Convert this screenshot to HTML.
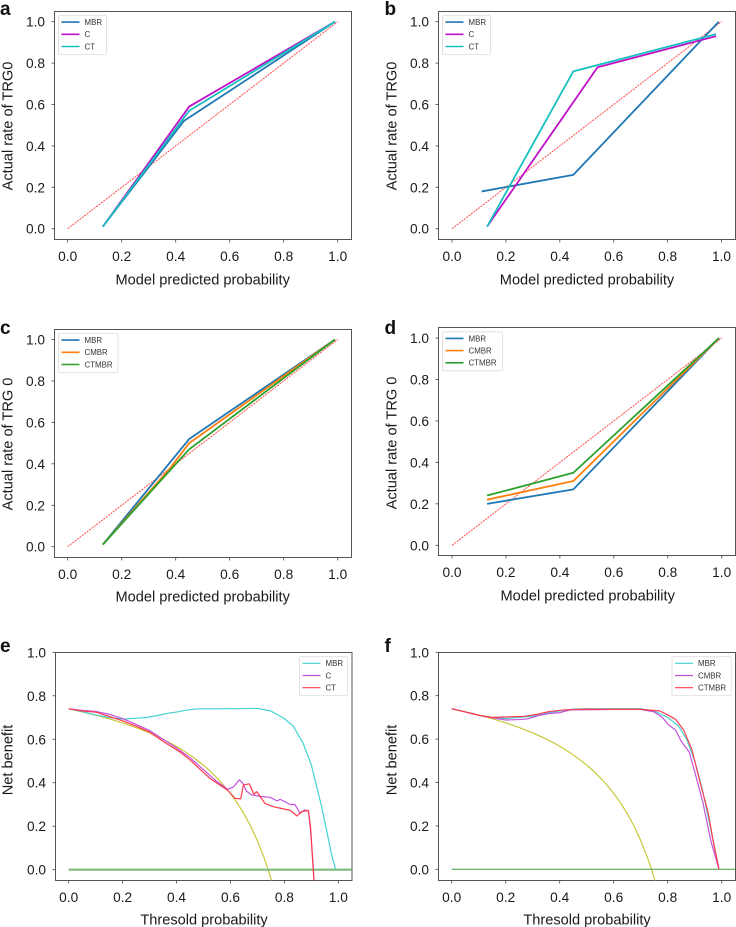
<!DOCTYPE html>
<html>
<head>
<meta charset="utf-8">
<style>
html,body{margin:0;padding:0;background:#fff;}
svg{display:block;font-family:"Liberation Sans",Arial,sans-serif;}
.frame{fill:#fff;stroke:#555;stroke-width:1;}
.tick{font-size:13.7px;fill:#1a1a1a;}
.title{font-size:14.6px;fill:#1a1a1a;}
.letter{font-size:19px;font-weight:bold;fill:#111;}
.leg{fill:#fff;stroke:#ddd;stroke-width:.8;}
.legt{font-size:7.9px;fill:#333;}
</style>
</head>
<body>
<svg id="fig" width="736" height="927" viewBox="0 0 736 927" xmlns="http://www.w3.org/2000/svg">
<g id="panel-a">
  <rect class="frame" x="54.5" y="11.5" width="297" height="228"/>
  <text class="letter" x="0" y="15">a</text>
  <text class="title" x="202.7" y="284.5" text-anchor="middle">Model predicted probability</text>
  <text class="title" transform="translate(12.5,126) rotate(-90)" text-anchor="middle">Actual rate of TRG0</text>
</g>
<g id="panel-b">
  <rect class="frame" x="438.5" y="11.5" width="297" height="228"/>
  <text class="letter" x="384.5" y="15">b</text>
  <text class="title" x="587" y="284.5" text-anchor="middle">Model predicted probability</text>
  <text class="title" transform="translate(396.5,126) rotate(-90)" text-anchor="middle">Actual rate of TRG0</text>
</g>
<g id="panel-c">
  <rect class="frame" x="54.5" y="329.5" width="297" height="228"/>
  <text class="letter" x="0" y="334">c</text>
  <text class="title" x="202.7" y="601.5" text-anchor="middle">Model predicted probability</text>
  <text class="title" transform="translate(12.5,444) rotate(-90)" text-anchor="middle">Actual rate of TRG 0</text>
</g>
<g id="panel-d">
  <rect class="frame" x="438.5" y="327.5" width="297" height="228"/>
  <text class="letter" x="384.5" y="334">d</text>
  <text class="title" x="587.7" y="600.5" text-anchor="middle">Model predicted probability</text>
  <text class="title" transform="translate(396.5,443) rotate(-90)" text-anchor="middle">Actual rate of TRG 0</text>
</g>
<g id="panel-e">
  <rect class="frame" x="55.5" y="652.5" width="296.5" height="228"/>
  <text class="letter" x="0" y="652">e</text>
  <text class="title" x="204" y="924.5" text-anchor="middle">Thresold probability</text>
  <text class="title" transform="translate(12.5,760) rotate(-90)" text-anchor="middle">Net benefit</text>
</g>
<g id="panel-f">
  <rect class="frame" x="438.5" y="652.5" width="297" height="228"/>
  <text class="letter" x="384.5" y="652">f</text>
  <text class="title" x="587" y="924.5" text-anchor="middle">Thresold probability</text>
  <text class="title" transform="translate(396.5,760) rotate(-90)" text-anchor="middle">Net benefit</text>
</g>
</svg>
<script>
// ---------- tick labels ----------
const xTickValues = [0, 0.2, 0.4, 0.6, 0.8, 1.0];
const yTickValues = [0, 0.2, 0.4, 0.6, 0.8, 1.0];
const tickLabels = ["0.0", "0.2", "0.4", "0.6", "0.8", "1.0"];

// ---------- reference diagonal ----------
const diagX = [0, 1];
const diagY = [0, 1];

// ---------- panel a ----------
const aMbrX = [0.13, 0.43, 0.99];
const aMbrY = [0.01, 0.52, 1.00];
const aCX = [0.13, 0.45, 0.99];
const aCY = [0.01, 0.59, 1.00];
const aCtX = [0.13, 0.45, 0.99];
const aCtY = [0.01, 0.57, 1.00];

// ---------- panel b ----------
const bMbrX = [0.11, 0.45, 0.99];
const bMbrY = [0.18, 0.26, 1.00];
const bCX = [0.13, 0.54, 0.98];
const bCY = [0.01, 0.78, 0.93];
const bCtX = [0.13, 0.45, 0.98];
const bCtY = [0.01, 0.76, 0.94];

// ---------- panel c ----------
const cMbrX = [0.13, 0.45, 0.99];
const cMbrY = [0.01, 0.52, 1.00];
const cCmbrX = [0.13, 0.38, 0.45, 0.99];
const cCmbrY = [0.01, 0.38, 0.50, 1.00];
const cCtmbrX = [0.13, 0.38, 0.45, 0.99];
const cCtmbrY = [0.01, 0.37, 0.47, 1.00];

// ---------- panel d ----------
const dMbrX = [0.13, 0.45, 0.99];
const dMbrY = [0.20, 0.27, 1.00];
const dCmbrX = [0.13, 0.45, 0.99];
const dCmbrY = [0.22, 0.31, 1.00];
const dCtmbrX = [0.13, 0.45, 0.99];
const dCtmbrY = [0.24, 0.35, 1.00];

// ---------- treat-all curve and treat-none baseline (panels e, f) ----------
const allX = [0, 0.05, 0.1, 0.15, 0.2, 0.25, 0.3, 0.35, 0.375, 0.4, 0.425, 0.45, 0.475, 0.5, 0.525, 0.55, 0.575, 0.6, 0.625, 0.65, 0.675, 0.7, 0.725, 0.74, 0.755];
const allY = [0.74, 0.726, 0.711, 0.694, 0.675, 0.653, 0.629, 0.600, 0.584, 0.567, 0.548, 0.527, 0.505, 0.48, 0.453, 0.422, 0.388, 0.35, 0.307, 0.257, 0.20, 0.133, 0.054, 0, -0.061];
const noneX = [0, 1.05];
const noneY = [0, 0];

// ---------- panel e ----------
const eMbrX = [0, 0.05, 0.1, 0.15, 0.2, 0.25, 0.29, 0.33, 0.37, 0.4, 0.44, 0.48, 0.55, 0.7, 0.75, 0.8, 0.833, 0.87, 0.9, 0.938, 0.96, 0.975, 0.988, 0.993];
const eMbrY = [0.74, 0.727, 0.712, 0.70, 0.693, 0.697, 0.70, 0.71, 0.72, 0.725, 0.735, 0.74, 0.74, 0.742, 0.73, 0.695, 0.66, 0.58, 0.482, 0.29, 0.16, 0.07, 0.01, 0];
const eCX = [0, 0.05, 0.1, 0.15, 0.2, 0.25, 0.3, 0.35, 0.4, 0.45, 0.5, 0.55, 0.59, 0.61, 0.633, 0.645, 0.66, 0.679, 0.716, 0.747, 0.774, 0.784, 0.821, 0.839, 0.858, 0.876, 0.889, 0.897, 0.905, 0.91];
const eCY = [0.74, 0.733, 0.728, 0.715, 0.695, 0.668, 0.64, 0.60, 0.56, 0.515, 0.46, 0.405, 0.37, 0.38, 0.413, 0.40, 0.36, 0.344, 0.336, 0.333, 0.316, 0.324, 0.30, 0.30, 0.259, 0.275, 0.27, 0.183, 0.05, -0.05];
const eCtX = [0, 0.05, 0.1, 0.15, 0.2, 0.25, 0.3, 0.36, 0.41, 0.45, 0.524, 0.59, 0.617, 0.638, 0.648, 0.67, 0.687, 0.697, 0.728, 0.759, 0.802, 0.821, 0.847, 0.864, 0.889, 0.897, 0.907, 0.91];
const eCtY = [0.74, 0.73, 0.725, 0.705, 0.685, 0.66, 0.633, 0.582, 0.544, 0.505, 0.42, 0.365, 0.328, 0.326, 0.39, 0.395, 0.347, 0.359, 0.305, 0.29, 0.278, 0.274, 0.247, 0.267, 0.273, 0.198, 0, -0.05];

// ---------- panel f ----------
const fMbrX = [0, 0.05, 0.1, 0.15, 0.2, 0.25, 0.3, 0.35, 0.4, 0.45, 0.5, 0.6, 0.7, 0.75, 0.8, 0.84, 0.87, 0.9, 0.93, 0.96, 0.99];
const fMbrY = [0.74, 0.725, 0.71, 0.70, 0.695, 0.70, 0.705, 0.72, 0.73, 0.738, 0.74, 0.74, 0.74, 0.73, 0.70, 0.66, 0.60, 0.50, 0.36, 0.18, 0];
const fCmbrX = [0, 0.05, 0.1, 0.15, 0.2, 0.25, 0.28, 0.32, 0.36, 0.4, 0.44, 0.5, 0.6, 0.7, 0.75, 0.78, 0.8, 0.83, 0.85, 0.88, 0.9, 0.93, 0.96, 0.99];
const fCmbrY = [0.74, 0.725, 0.71, 0.698, 0.688, 0.69, 0.693, 0.708, 0.718, 0.722, 0.735, 0.735, 0.737, 0.737, 0.725, 0.70, 0.67, 0.64, 0.59, 0.54, 0.45, 0.31, 0.13, 0];
const fCtmbrX = [0, 0.05, 0.1, 0.15, 0.2, 0.27, 0.32, 0.36, 0.42, 0.5, 0.6, 0.7, 0.77, 0.8, 0.83, 0.86, 0.89, 0.92, 0.95, 0.97, 0.99];
const fCtmbrY = [0.74, 0.725, 0.71, 0.70, 0.702, 0.705, 0.715, 0.727, 0.735, 0.738, 0.737, 0.737, 0.73, 0.712, 0.69, 0.64, 0.55, 0.40, 0.26, 0.12, 0];

// ---------- colours ----------
const BLUE = '#1f77b4', MAG = '#c010c8', TEAL = '#18c0c0', ORANGE = '#ff7f0e', GREEN = '#2ca02c';
const CYANL = '#45d2d2', MAGL = '#c450dc', REDL = '#ff3c4c', OLIVE = '#c9c83a', REF = '#ff4a4a';

const NS = 'http://www.w3.org/2000/svg';
const defs = document.createElementNS(NS, 'defs');
document.getElementById('fig').appendChild(defs);

function drawPanel(p) {
  const g = document.getElementById('panel-' + p.id);
  const frame = g.querySelector('rect');
  // axis functions
  const sx = v => p.x0 + (p.x1 - p.x0) * v;
  const sy = v => p.y0 + (p.y1 - p.y0) * v;

  const clip = document.createElementNS(NS, 'clipPath');
  clip.id = 'clip-' + p.id;
  const cr = document.createElementNS(NS, 'rect');
  cr.setAttribute('x', frame.getAttribute('x'));
  cr.setAttribute('y', frame.getAttribute('y'));
  cr.setAttribute('width', frame.getAttribute('width'));
  cr.setAttribute('height', frame.getAttribute('height'));
  clip.appendChild(cr);
  defs.appendChild(clip);

  const fl = parseFloat(frame.getAttribute('x'));
  const fb = parseFloat(frame.getAttribute('y')) + parseFloat(frame.getAttribute('height'));

  xTickValues.forEach((v, i) => {
    const t = document.createElementNS(NS, 'line');
    
    
    t.setAttribute('x1', sx(v)); t.setAttribute('x2', sx(v));
    t.setAttribute('y1', fb); t.setAttribute('y2', fb + 3);
    t.setAttribute('stroke', '#444'); t.setAttribute('stroke-width', '.8');
    g.appendChild(t);
    const l = document.createElementNS(NS, 'text');
    
    
    l.setAttribute('class', 'tick');
    l.setAttribute('x', sx(v)); l.setAttribute('y', fb + 21.5);
    l.setAttribute('text-anchor', 'middle');
    l.textContent = tickLabels[i];
    g.appendChild(l);
  });
  yTickValues.forEach((v, i) => {
    const t = document.createElementNS(NS, 'line');
    
    
    t.setAttribute('x1', fl - 3); t.setAttribute('x2', fl);
    t.setAttribute('y1', sy(v)); t.setAttribute('y2', sy(v));
    t.setAttribute('stroke', '#444'); t.setAttribute('stroke-width', '.8');
    g.appendChild(t);
    const l = document.createElementNS(NS, 'text');
    
    
    l.setAttribute('class', 'tick');
    l.setAttribute('x', fl - 9.5); l.setAttribute('y', sy(v) + 5);
    l.setAttribute('text-anchor', 'end');
    l.textContent = tickLabels[i];
    g.appendChild(l);
  });

  p.series.forEach(s => {
    const el = document.createElementNS(NS, 'polyline');
    
    
    el.setAttribute('points', s.xs.map((v, i) => sx(v).toFixed(2) + ',' + sy(s.ys[i]).toFixed(2)).join(' '));
    el.setAttribute('fill', 'none');
    el.setAttribute('stroke', s.color);
    el.setAttribute('stroke-width', s.w);
    el.setAttribute('stroke-linejoin', 'round');
    if (s.dash) el.setAttribute('stroke-dasharray', s.dash);
    el.setAttribute('clip-path', 'url(#clip-' + p.id + ')');
    g.appendChild(el);
  });

  // legend
  const lg = document.createElementNS(NS, 'g');
  
  
  const box = document.createElementNS(NS, 'rect');
  
  
  box.setAttribute('class', 'leg');
  box.setAttribute('x', p.lx); box.setAttribute('y', p.ly);
  box.setAttribute('width', p.lw); box.setAttribute('height', 39);
  box.setAttribute('rx', 1.5);
  lg.appendChild(box);
  p.legend.forEach((e, i) => {
    const yy = p.ly + 6.6 + i * 12.2;
    const sw = document.createElementNS(NS, 'line');
    
    
    sw.setAttribute('x1', p.lx + 3); sw.setAttribute('x2', p.lx + 21);
    sw.setAttribute('y1', yy); sw.setAttribute('y2', yy);
    sw.setAttribute('stroke', e.color);
    sw.setAttribute('stroke-width', p.legW);
    lg.appendChild(sw);
    const tx = document.createElementNS(NS, 'text');
    
    
    tx.setAttribute('class', 'legt');
    tx.setAttribute('x', p.lx + 26); tx.setAttribute('y', yy + 2.9);
    tx.textContent = e.label;
    lg.appendChild(tx);
  });
  g.appendChild(lg);
}

const REFW = 1, REFD = '2 1', LW = 1.8, TW = 1.2;
drawPanel({id:'a', x0:67.7, x1:337.7, y0:228.7, y1:21.7, lx:58.5, ly:15.5, lw:48, legW:1.6,
  legend:[{label:'MBR',color:BLUE},{label:'C',color:MAG},{label:'CT',color:TEAL}],
  series:[
    {name:'reference',xs:diagX,ys:diagY,color:REF,w:REFW,dash:REFD},
    {name:'mbr',xs:aMbrX,ys:aMbrY,color:BLUE,w:LW},
    {name:'c',xs:aCX,ys:aCY,color:MAG,w:LW},
    {name:'ct',xs:aCtX,ys:aCtY,color:TEAL,w:LW}]});
drawPanel({id:'b', x0:452, x1:721.5, y0:228.7, y1:21.7, lx:442.5, ly:15.5, lw:48, legW:1.6,
  legend:[{label:'MBR',color:BLUE},{label:'C',color:MAG},{label:'CT',color:TEAL}],
  series:[
    {name:'reference',xs:diagX,ys:diagY,color:REF,w:REFW,dash:REFD},
    {name:'mbr',xs:bMbrX,ys:bMbrY,color:BLUE,w:LW},
    {name:'c',xs:bCX,ys:bCY,color:MAG,w:LW},
    {name:'ct',xs:bCtX,ys:bCtY,color:TEAL,w:LW}]});
drawPanel({id:'c', x0:67.7, x1:337.7, y0:546.7, y1:339.5, lx:58.5, ly:333.5, lw:59.5, legW:1.6,
  legend:[{label:'MBR',color:BLUE},{label:'CMBR',color:ORANGE},{label:'CTMBR',color:GREEN}],
  series:[
    {name:'reference',xs:diagX,ys:diagY,color:REF,w:REFW,dash:REFD},
    {name:'mbr',xs:cMbrX,ys:cMbrY,color:BLUE,w:LW},
    {name:'cmbr',xs:cCmbrX,ys:cCmbrY,color:ORANGE,w:LW},
    {name:'ctmbr',xs:cCtmbrX,ys:cCtmbrY,color:GREEN,w:LW}]});
drawPanel({id:'d', x0:452, x1:721.7, y0:545.3, y1:338, lx:442.5, ly:331.8, lw:60, legW:1.6,
  legend:[{label:'MBR',color:BLUE},{label:'CMBR',color:ORANGE},{label:'CTMBR',color:GREEN}],
  series:[
    {name:'reference',xs:diagX,ys:diagY,color:REF,w:REFW,dash:REFD},
    {name:'mbr',xs:dMbrX,ys:dMbrY,color:BLUE,w:LW},
    {name:'cmbr',xs:dCmbrX,ys:dCmbrY,color:ORANGE,w:LW},
    {name:'ctmbr',xs:dCtmbrX,ys:dCtmbrY,color:GREEN,w:LW}]});
drawPanel({id:'e', x0:68.7, x1:338.3, y0:869.7, y1:652.3, lx:299.5, ly:656.7, lw:48, legW:1.2,
  legend:[{label:'MBR',color:CYANL},{label:'C',color:MAGL},{label:'CT',color:REDL}],
  series:[
    {name:'treat-all',xs:allX,ys:allY,color:OLIVE,w:TW},
    {name:'treat-none',xs:noneX,ys:noneY,color:'#7dbb7d',w:2.2},
    {name:'mbr',xs:eMbrX,ys:eMbrY,color:CYANL,w:TW},
    {name:'c',xs:eCX,ys:eCY,color:MAGL,w:TW},
    {name:'ct',xs:eCtX,ys:eCtY,color:REDL,w:TW}]});
drawPanel({id:'f', x0:451.7, x1:721.7, y0:869.3, y1:652.3, lx:672, ly:656.7, lw:59.3, legW:1.2,
  legend:[{label:'MBR',color:CYANL},{label:'CMBR',color:MAGL},{label:'CTMBR',color:REDL}],
  series:[
    {name:'treat-all',xs:allX,ys:allY,color:OLIVE,w:TW},
    {name:'treat-none',xs:noneX,ys:noneY,color:'#3f9a3f',w:1},
    {name:'mbr',xs:fMbrX,ys:fMbrY,color:CYANL,w:TW},
    {name:'cmbr',xs:fCmbrX,ys:fCmbrY,color:MAGL,w:TW},
    {name:'ctmbr',xs:fCtmbrX,ys:fCtmbrY,color:REDL,w:TW}]});
</script>
</body>
</html>
